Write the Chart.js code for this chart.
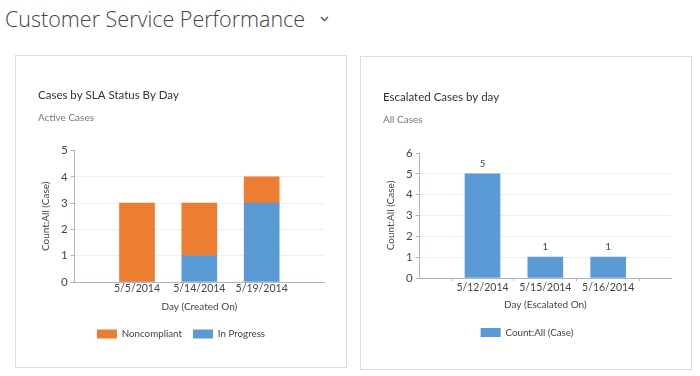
<!DOCTYPE html>
<html><head><meta charset="utf-8">
<script src="https://cdn.jsdelivr.net/npm/chart.js@4.4.1/dist/chart.umd.min.js"></script>
<style>
html,body{margin:0;padding:0;background:#fff}
body{width:700px;height:376px;position:relative;overflow:hidden;font-family:"Open Sans","Noto Sans",sans-serif}
#hdr{position:absolute;left:5px;top:4px;font-size:21.5px;font-weight:300;color:#444;white-space:nowrap;line-height:30px}
#chev{position:absolute;left:320px;top:15px}
.card{position:absolute;border:1px solid #dcdcdc;background:#fff;box-sizing:border-box}
#card1{left:15px;top:55px;width:332px;height:313px}
#card2{left:360px;top:56px;width:332px;height:314px}
.card canvas{position:absolute;left:0;top:0}
</style>
</head><body>
<div id="hdr">Customer Service Performance</div>
<svg id="chev" width="10" height="8"><polyline points="1,2 4.5,5.5 8,2" fill="none" stroke="#555" stroke-width="1.4"/></svg>
<div class="card" id="card1"><canvas id="ch1" width="330" height="311"></canvas></div>
<div class="card" id="card2"><canvas id="ch2" width="330" height="312"></canvas></div>
<script>
// ---- data ----
const slaDays = ['5/5/2014', '5/14/2014', '5/19/2014'];
const noncompliant = [3, 2, 1];
const inProgress = [0, 1, 3];
const slaTicks = [0, 1, 2, 3, 4, 5];

const escDays = ['5/12/2014', '5/15/2014', '5/16/2014'];
const escCounts = [5, 1, 1];
const escTicks = [0, 1, 2, 3, 4, 5, 6];

const ORANGE = '#ED7D31';
const BLUE = '#5B9BD5';
const FONT = 'Lato,"Open Sans",sans-serif';

Chart.defaults.font.family = FONT;
Chart.defaults.color = '#444';
Chart.defaults.animation = false;

// one empty slot on each side of the categories
const padL = arr => ['', ...arr, ''];
const padD = arr => [null, ...arr, null];

const valueLabels = {
  id: 'valueLabels',
  afterDatasetsDraw(chart, args, opts) {
    if (!opts.show) return;
    const ctx = chart.ctx;
    ctx.save();
    ctx.font = '9.5px ' + FONT;
    ctx.fillStyle = '#444';
    ctx.textAlign = 'center';
    ctx.textBaseline = 'bottom';
    chart.data.datasets.forEach((ds, di) => {
      chart.getDatasetMeta(di).data.forEach((el, i) => {
        const v = ds.data[i];
        if (v == null) return;
        ctx.fillText(String(v), el.x, el.y - 5);
      });
    });
    ctx.restore();
  }
};

function makeOptions(o) {
  return {
    responsive: false,
    animation: false,
    layout: { padding: { left: o.padLeft, right: o.padRight, top: 0, bottom: o.padBottom } },
    plugins: {
      title: { display: true, text: o.title, align: 'start', color: '#333',
        font: { size: 11.5, weight: 'normal' }, padding: { top: o.titleTop, bottom: 0 } },
      subtitle: { display: true, text: o.subtitle, align: 'start', color: '#777',
        font: { size: 10, weight: 'normal' }, padding: { top: 10, bottom: o.subBottom } },
      legend: { position: 'bottom', reverse: o.reverse,
        labels: { boxWidth: 20, boxHeight: 9, padding: 11, color: '#444', font: { size: 9.75 } } },
      tooltip: { enabled: false },
      valueLabels: { show: o.valueLabels }
    },
    scales: {
      x: {
        stacked: true,
        offset: false,
        grid: { display: true, drawOnChartArea: false, drawTicks: o.xTicks, tickLength: 3, tickColor: '#aeb5bd' },
        border: { color: '#aeb5bd' },
        ticks: { autoSkip: false, maxRotation: 0, padding: 0, color: '#444', font: { size: 10.5 } },
        title: { display: true, text: o.xTitle, color: '#444', font: { size: 10 }, padding: { top: o.xTitleTop, bottom: o.xTitleBottom } }
      },
      y: {
        stacked: true,
        min: o.ticks[0], max: o.ticks[o.ticks.length - 1],
        afterBuildTicks: ax => { ax.ticks = o.ticks.map(v => ({ value: v })); },
        grid: { color: c => (c.tick && c.tick.value === o.ticks[o.ticks.length - 1]) ? 'rgba(0,0,0,0)' : '#eceff3',
                tickLength: 4, tickColor: '#aeb5bd' },
        border: { color: '#aeb5bd' },
        ticks: { padding: 3, color: '#444', font: { size: 11.5 } },
        title: { display: true, text: 'Count:All (Case)', color: '#444', font: { size: 10 }, padding: { top: 2, bottom: 6 } }
      }
    }
  };
}

new Chart(document.getElementById('ch1'), {
  type: 'bar',
  data: {
    labels: padL(slaDays),
    datasets: [
      { label: 'In Progress', data: padD(inProgress), backgroundColor: BLUE, barThickness: 35 },
      { label: 'Noncompliant', data: padD(noncompliant), backgroundColor: ORANGE, barThickness: 35 }
    ]
  },
  options: makeOptions({ title: 'Cases by SLA Status By Day', subtitle: 'Active Cases', xTitle: 'Day (Created On)',
    ticks: slaTicks, padLeft: 22, padRight: 22, padBottom: 18.15, titleTop: 32, subBottom: 26.8,
    xTitleTop: 6.5, xTitleBottom: 5,
    reverse: true, xTicks: false, valueLabels: false }),
  plugins: [valueLabels]
});

new Chart(document.getElementById('ch2'), {
  type: 'bar',
  data: {
    labels: padL(escDays),
    datasets: [
      { label: 'Count:All (Case)', data: padD(escCounts), backgroundColor: BLUE, barThickness: 35 }
    ]
  },
  options: makeOptions({ title: 'Escalated Cases by day', subtitle: 'All Cases', xTitle: 'Day (Escalated On)',
    ticks: escTicks, padLeft: 22, padRight: 20, padBottom: 21.65, titleTop: 33, subBottom: 27.2,
    xTitleTop: 5.5, xTitleBottom: 5.5,
    reverse: false, xTicks: true, valueLabels: true }),
  plugins: [valueLabels]
});
</script>
</body></html>
